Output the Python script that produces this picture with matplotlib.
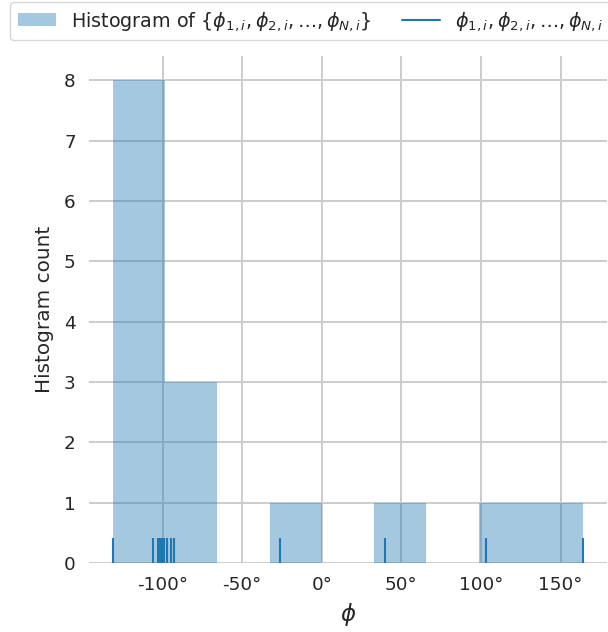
import numpy as np
import matplotlib
matplotlib.use("Agg")
import matplotlib.pyplot as plt
import seaborn as sns
from matplotlib.patches import Patch
from matplotlib.lines import Line2D
from matplotlib.ticker import FuncFormatter

# Angles (degrees)
phi_values = [-131.4, -106.3, -103.0, -102.2, -101.3, -100.5, -99.8, -99.0,
              -97.2, -94.7, -92.8, -25.9, 39.6, 102.9, 164.4]
n_bins = 9
x_ticks = [-100, -50, 0, 50, 100, 150]
y_ticks = [0, 1, 2, 3, 4, 5, 6, 7, 8]

sns.set_theme(style="whitegrid", font_scale=1.2)
plt.rcParams['font.family'] = ['DejaVu Sans']
plt.rcParams['grid.linewidth'] = 1.4

fig = plt.figure(figsize=(6.08, 6.32), dpi=100)
ax = fig.add_axes([89/608, 1 - 563/632, (607-89)/608, (563-56)/632])

blue = "#1f77b4"
ax.hist(phi_values, bins=n_bins, color=blue, alpha=0.4, edgecolor='none', linewidth=0)
ax.vlines(phi_values, 0, 0.05, transform=ax.get_xaxis_transform(),
          color=blue, lw=1.5)

ax.set_xticks(x_ticks)
ax.set_yticks(y_ticks)
ax.xaxis.set_major_formatter(FuncFormatter(lambda v, p: f"{v:.0f}°"))
ax.tick_params(axis='both', labelsize=13.2)
ax.set_xlabel(r"$\phi$", fontsize=16.5, labelpad=5)
ax.set_ylabel("Histogram count", fontsize=14.4, labelpad=7)
for s in ax.spines.values():
    s.set_visible(False)

handles = [Patch(facecolor=blue, alpha=0.4, edgecolor='none'),
           Line2D([0], [0], color=blue, lw=1.5)]
labels = [r"Histogram of $\{\phi_{1,i}, \phi_{2,i}, \ldots, \phi_{N,i}\}$",
          r"$\phi_{1,i}, \phi_{2,i}, \ldots, \phi_{N,i}$"]
leg = fig.legend(handles, labels, ncol=2, loc='upper left',
                 bbox_to_anchor=(10/608, 1 - 2/632), borderaxespad=0,
                 fontsize=13.8, frameon=True, columnspacing=1.55)

fig.savefig("out.png", dpi=100)
